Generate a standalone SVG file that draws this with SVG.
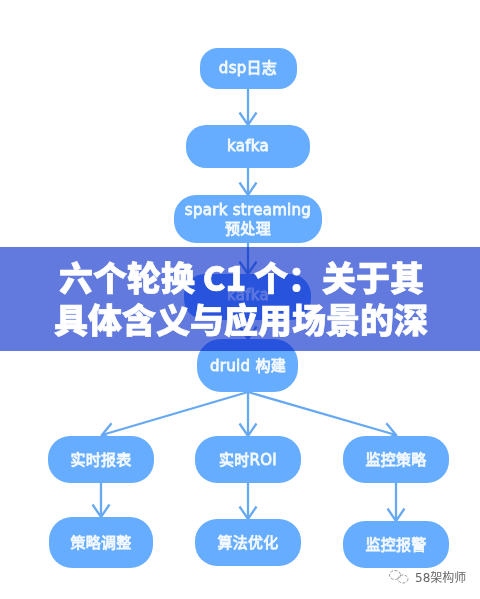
<svg xmlns="http://www.w3.org/2000/svg" width="480" height="599" viewBox="0 0 480 599">
<style>
.n{fill:#66adff}
.t{font-family:"DejaVu Sans","Noto Sans CJK SC",sans-serif;font-size:15px;font-weight:400;letter-spacing:.3px;fill:#f4f9ff;stroke:#f4f9ff;stroke-width:.8;text-anchor:middle}
.c{fill:none;stroke:#66a9f2;stroke-width:2.3;marker-end:url(#a)}
.h{font-family:"Noto Sans CJK SC",sans-serif;font-size:34px;font-weight:900;fill:#fff;stroke:#fff;stroke-width:.7;text-anchor:middle}
</style>
<defs>
<marker id="a" viewBox="-15 -11 17 22" refX="0" refY="0" markerUnits="userSpaceOnUse" markerWidth="17" markerHeight="22" orient="auto">
<path d="M-12.5-8.5L0 0L-12.5 8.5" fill="none" stroke="#66a9f2" stroke-width="2.3"/>
</marker>
</defs>
<rect width="480" height="599" fill="#fff"/>
<g id="connectors">
<path class="c" d="M248 89V125"/>
<path class="c" d="M248 168V195"/>
<path class="c" d="M248 243V274"/>
<path class="c" d="M248 320V339"/>
<path class="c" d="M248 392L102 435"/>
<path class="c" d="M248 392V436"/>
<path class="c" d="M248 392L396 435"/>
<path class="c" d="M101 483V517"/>
<path class="c" d="M248 483V519"/>
<path class="c" d="M396 483V521"/>
</g>
<g id="dsp"><rect class="n" x="200" y="48" width="97" height="41" rx="18"/><text class="t" x="248" y="73">dsp日志</text></g>
<g id="kafka1"><rect class="n" x="186" y="125" width="124" height="43" rx="20"/><text class="t" x="248" y="151">kafka</text></g>
<g id="spark"><rect class="n" x="174" y="195" width="148" height="48" rx="22"/><text class="t" x="248" y="215">spark streaming</text><text class="t" x="248" y="234">预处理</text></g>
<g id="kafka2"><rect class="n" x="184" y="274" width="127" height="46" rx="21"/><text class="t" x="248" y="300">kafka</text></g>
<g id="druid"><rect class="n" x="197" y="339" width="101" height="53" rx="24"/><text class="t" x="248" y="371">druid 构建</text></g>
<g id="report"><rect class="n" x="48" y="436" width="106" height="47" rx="22"/><text class="t" x="101" y="465">实时报表</text></g>
<g id="roi"><rect class="n" x="195" y="436" width="106" height="47" rx="22"/><text class="t" x="248" y="465">实时ROI</text></g>
<g id="monitor"><rect class="n" x="343" y="436" width="106" height="47" rx="22"/><text class="t" x="396" y="465">监控策略</text></g>
<g id="adjust"><rect class="n" x="49" y="517" width="104" height="51" rx="23"/><text class="t" x="101" y="548">策略调整</text></g>
<g id="algo"><rect class="n" x="195" y="519" width="106" height="47" rx="22"/><text class="t" x="248" y="548">算法优化</text></g>
<g id="alarm"><rect class="n" x="343" y="521" width="106" height="47" rx="22"/><text class="t" x="396" y="550">监控报警</text></g>
<rect x="0" y="247" width="480" height="104" fill="#627add" style="mix-blend-mode:multiply"/>
<text class="h" x="241.500" y="291">六个轮换 C1 个：关于其</text>
<text class="h" x="241" y="333">具体含义与应用场景的深</text>
<g fill="none" stroke="#9a9a9a" stroke-width="1"><ellipse cx="395" cy="575" rx="5.500" ry="4.500" stroke-dasharray="3 1.500"/><ellipse cx="403" cy="579" rx="5" ry="4" stroke-dasharray="3 1.500"/></g>
<text x="415" y="582" font-family="'DejaVu Sans','Noto Sans CJK SC',sans-serif" font-size="12" fill="#666">58架构师</text>
</svg>
